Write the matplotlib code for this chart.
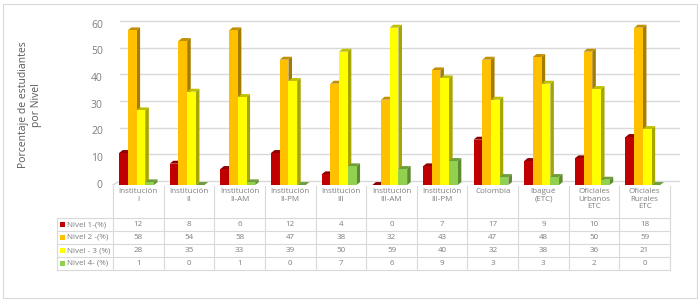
import numpy as np
import matplotlib
matplotlib.use("Agg")
import matplotlib.pyplot as plt
from matplotlib.patches import Polygon, Rectangle
from matplotlib.transforms import blended_transform_factory

plt.rcParams["font.family"] = ["Open Sans", "DejaVu Sans"]

categories = ["Institución\nI", "Institución\nII", "Institución\nII-AM", "Institución\nII-PM",
              "Institución\nIII", "Institución\nIII-AM", "Institución\nIII-PM", "Colombia",
              "Ibagué\n(ETC)", "Oficiales\nUrbanos\nETC", "Oficiales\nRurales\nETC"]
series_names = ["Nivel 1-(%)", "Nivel 2 -(%)", "Nivel - 3 (%)", "Nivel 4- (%)"]
nivel1 = [12, 8, 6, 12, 4, 0, 7, 17, 9, 10, 18]
nivel2 = [58, 54, 58, 47, 38, 32, 43, 47, 48, 50, 59]
nivel3 = [28, 35, 33, 39, 50, 59, 40, 32, 38, 36, 21]
nivel4 = [1, 0, 1, 0, 7, 6, 9, 3, 3, 2, 0]
series = [nivel1, nivel2, nivel3, nivel4]
y_ticks = [0, 10, 20, 30, 40, 50, 60]

front = ["#C00000", "#FFC000", "#FFFF00", "#92D050"]
side = ["#7A0000", "#A67C00", "#A6A600", "#5E8A30"]
top = ["#8E0000", "#C09000", "#C0C000", "#6E9E3A"]
text_c = "#7F7F7F"
grid_c = "#D9D9D9"

W, H = 700, 303
fig = plt.figure(figsize=(7, 3.03), dpi=100)
fig.patches.append(Rectangle((3 / W, 5 / H), 694 / W, 294 / H, transform=fig.transFigure,
                             fill=False, edgecolor="#D9D9D9", lw=0.8))

x_left, x_right, y0_px, y60_px = 113, 670, 185, 25
ax = fig.add_axes([x_left / W, 1 - y0_px / H, (x_right - x_left) / W, (y0_px - y60_px) / H])
n = len(categories)
ax.set_xlim(0, n)
ax.set_ylim(0, 60)
ax.axis("off")

# back wall gridlines + floor
wdx, wdy = 0.14, 1.5
for v in y_ticks:
    ax.plot([wdx, n + wdx * 1.2], [v + wdy, v + wdy], color=grid_c, lw=1, clip_on=False, zorder=0)
    ax.text(-0.2, v, str(v), ha="right", va="center", fontsize=7.5, color=text_c)
ax.plot([0, wdx], [0, wdy], color=grid_c, lw=1, clip_on=False, zorder=0)

# 3D-like bars
bw, bdx, bdy = 0.172, 0.07, 1.1
for i in range(n):
    start = i + 0.5 - 2 * bw - bdx / 2
    for s, vals in enumerate(series):
        v = vals[i]
        x0 = start + s * bw
        ax.add_patch(Polygon([(x0 + bw, 0), (x0 + bw + bdx, bdy), (x0 + bw + bdx, v + bdy), (x0 + bw, v)],
                             closed=True, facecolor=side[s], edgecolor="none", clip_on=False, zorder=2))
        ax.add_patch(Polygon([(x0, v), (x0 + bdx, v + bdy), (x0 + bw + bdx, v + bdy), (x0 + bw, v)],
                             closed=True, facecolor=top[s], edgecolor="none", clip_on=False, zorder=2))
        ax.add_patch(Rectangle((x0, 0), bw, v, facecolor=front[s], edgecolor="none", clip_on=False, zorder=2))

# data table
tr = blended_transform_factory(ax.transData, fig.transFigure)
fy = lambda px: 1 - px / H
hdr_top, rows_top, row_h = 186, 218, 13
table_bottom = rows_top + row_h * len(series)
for j in range(n + 1):
    ax.plot([j, j], [fy(hdr_top), fy(table_bottom)], transform=tr, color=grid_c, lw=0.8, clip_on=False)
for r in range(len(series) + 1):
    yy = fy(rows_top + r * row_h)
    fig.lines.append(plt.Line2D([57 / W, x_right / W], [yy, yy], transform=fig.transFigure,
                                color=grid_c, lw=0.8))
fig.lines.append(plt.Line2D([57 / W, 57 / W], [fy(rows_top), fy(table_bottom)],
                            transform=fig.transFigure, color=grid_c, lw=0.8))
for j, c in enumerate(categories):
    ax.text(j + 0.5, fy(hdr_top + 2), c, transform=tr, ha="center", va="top",
            fontsize=5.8, color=text_c, linespacing=1.15)
for r, (name, vals) in enumerate(zip(series_names, series)):
    yc = fy(rows_top + r * row_h + row_h / 2)
    fig.patches.append(Rectangle((60 / W, yc - 2.5 / H), 5 / W, 5 / H, transform=fig.transFigure,
                                 facecolor=front[r], edgecolor="none"))
    fig.text(67 / W, yc, name, ha="left", va="center", fontsize=5.8, color=text_c)
    for j, v in enumerate(vals):
        ax.text(j + 0.5, yc, str(v), transform=tr, ha="center", va="center", fontsize=5.8, color=text_c)

fig.text(30 / W, 1 - 105 / H, "Porcentaje de estudiantes\npor Nivel", rotation=90,
         ha="center", va="center", fontsize=7.5, color="#595959", linespacing=1.2)

fig.savefig("out.png", dpi=100)
